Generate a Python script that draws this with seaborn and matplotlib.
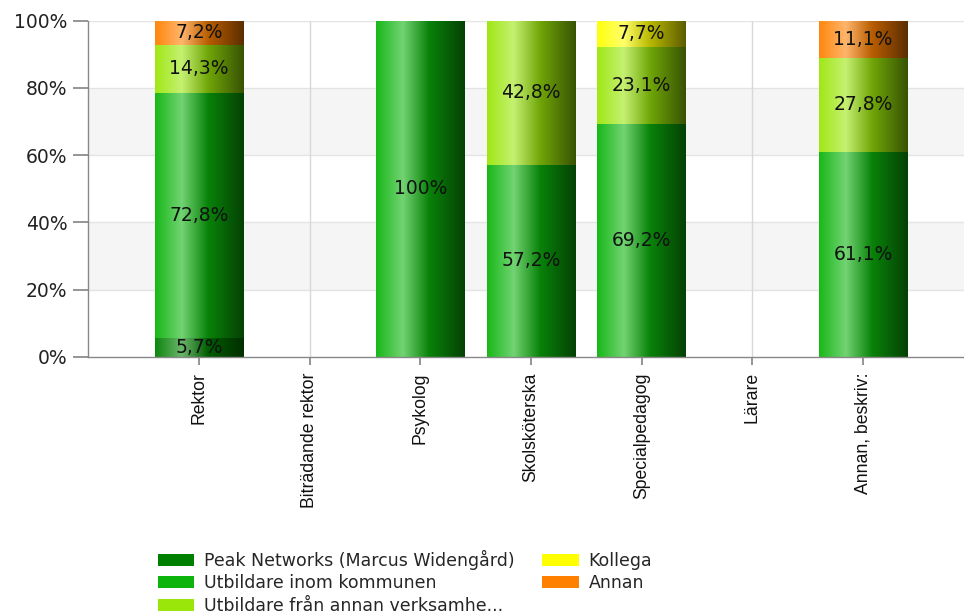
import numpy as np
import pandas as pd
import matplotlib
matplotlib.use("Agg")
import matplotlib.pyplot as plt
import seaborn as sns
from matplotlib.colors import LinearSegmentedColormap, to_rgb
from matplotlib.patches import Patch

categories = ["Rektor", "Biträdande rektor", "Psykolog", "Skolsköterska",
              "Specialpedagog", "Lärare", "Annan, beskriv:"]
series_names = ["Peak Networks (Marcus Widengård)", "Utbildare inom kommunen",
                "Utbildare från annan verksamhe...", "Kollega", "Annan"]
peak = [5.7, 0, 0, 0, 0, 0, 0]
kommun = [72.8, 0, 100, 57.2, 69.2, 0, 61.1]
annan_verksamhet = [14.3, 0, 0, 42.8, 23.1, 0, 27.8]
kollega = [0, 0, 0, 0, 7.7, 0, 0]
annan = [7.2, 0, 0, 0, 0, 0, 11.1]
series_colors = ["#008000", "#0cb40c", "#9be60a", "#ffff00", "#ff8000"]
yticks = [0, 20, 40, 60, 80, 100]

series = [peak, kommun, annan_verksamhet, kollega, annan]

sns.set_theme(style="white")
plt.rcParams['font.family'] = ['DejaVu Sans']

fig = plt.figure(figsize=(9.64, 6.14), dpi=100)
ax = fig.add_axes([88.3 / 964, 1 - 357 / 614, 8 * 110.67 / 964, 336.3 / 614])

# background bands and grid
ax.axhspan(20, 40, color="#f5f5f5", zorder=0, lw=0)
ax.axhspan(60, 80, color="#f5f5f5", zorder=0, lw=0)
for yv in yticks[1:]:
    ax.axhline(yv, color="#e4e4e4", lw=1, zorder=0.5)
for i in range(len(categories)):
    ax.axvline(i, color="#d8d8d8", lw=1, zorder=0.5)

def lighten(c, f):
    c = np.array(to_rgb(c))
    return tuple(c + (1 - c) * f)

def darken(c, f):
    c = np.array(to_rgb(c))
    return tuple(c * f)

arr = np.array(series)
cum = np.cumsum(arr, axis=0)

# draw layered cumulative bars, largest first
z = 2
for k in range(len(series) - 1, -1, -1):
    df = pd.DataFrame({"cat": categories, "val": cum[k]})
    n_before = len(ax.patches)
    sns.barplot(data=df, x="cat", y="val", order=categories, color=series_colors[k],
                width=0.8, errorbar=None, ax=ax, zorder=z, linewidth=0)
    new_patches = ax.patches[n_before:]
    base = series_colors[k]
    cmap = LinearSegmentedColormap.from_list(
        "g%d" % k,
        [(0.0, lighten(base, 0.05)), (0.3, lighten(base, 0.42)),
         (0.6, darken(base, 0.72)), (1.0, darken(base, 0.36))])
    grad = np.linspace(0, 1, 256).reshape(1, -1)
    for p in new_patches:
        h = p.get_height()
        if h <= 0:
            continue
        x0 = p.get_x()
        w = p.get_width()
        p.set_facecolor("none")
        im = ax.imshow(grad, cmap=cmap, aspect="auto", extent=[x0, x0 + w, 0, h],
                       zorder=z, interpolation="bilinear")
        im.set_clip_path(p)
    z += 1

# labels
for k in range(len(series)):
    for i in range(len(categories)):
        v = arr[k, i]
        if v <= 0:
            continue
        bottom = cum[k, i] - v
        txt = ("%g" % v).replace(".", ",") + "%"
        ax.text(i, bottom + v / 2, txt, ha="center", va="center", fontsize=13.5,
                color="#111111", zorder=20)

ax.set_xlim(-1, 7)
ax.set_ylim(0, 100)
ax.set_yticks(yticks)
ax.set_yticklabels([f"{v}%" for v in yticks])
ax.set_xticks(range(len(categories)))
ax.set_xticklabels(categories, family=["Liberation Sans", "DejaVu Sans"])
ax.set_xlabel("")
ax.set_ylabel("")
ax.tick_params(axis="x", labelrotation=90, length=6, pad=5, color="#888888",
               labelsize=12.7, labelcolor="#111111", bottom=True)
ax.tick_params(axis="y", length=11, pad=4, color="#888888", labelsize=13.5,
               labelcolor="#222222", left=True)
for s in ["top", "right"]:
    ax.spines[s].set_visible(False)
for s in ["left", "bottom"]:
    ax.spines[s].set_color("#888888")
    ax.spines[s].set_linewidth(1)
    ax.spines[s].set_zorder(30)

handles = [Patch(facecolor=c, edgecolor="none") for c in series_colors]
fig.legend(handles, series_names, ncol=2, loc="upper left",
           bbox_to_anchor=(158 / 964, 1 - 550 / 614), frameon=False,
           fontsize=12.5, handlelength=2.1, handleheight=0.7, handletextpad=0.55,
           columnspacing=1.6, labelspacing=0.25, borderpad=0, borderaxespad=0)

fig.savefig("out.png", dpi=100)
